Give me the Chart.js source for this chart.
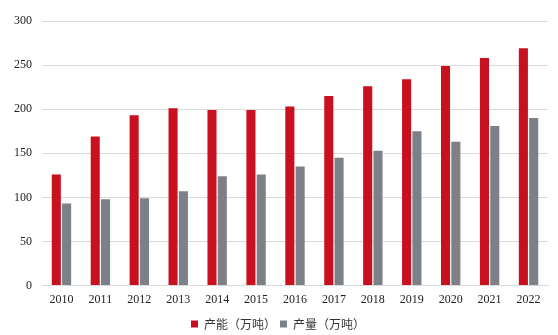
<!DOCTYPE html>
<html>
<head>
<meta charset="utf-8">
<style>
  html, body { margin: 0; padding: 0; background: #fff; }
  #wrap { width: 558px; height: 335px; }
</style>
</head>
<body>
<div id="wrap"><canvas id="myChart"></canvas></div>
<script src="https://cdn.jsdelivr.net/npm/chart.js@4.4.2/dist/chart.umd.min.js"></script>
<script>
  // values
  const years = ['2010', '2011', '2012', '2013', '2014', '2015', '2016', '2017', '2018', '2019', '2020', '2021', '2022'];
  const capacity = [126, 169, 193, 201, 199, 199, 203, 215, 226, 234, 249, 258, 269];
  const output = [93, 98, 99, 107, 124, 126, 135, 145, 153, 175, 163, 181, 190];
  const yTicks = [0, 50, 100, 150, 200, 250, 300];

  const serif = "'Liberation Serif', 'Times New Roman', serif";
  const cjk = "'Noto Sans CJK SC', sans-serif";

  const ctx = document.getElementById('myChart');
  const myChart = new Chart(ctx, {
    type: 'bar',
    data: {
      labels: years,
      datasets: [
        {
          label: '产能（万吨）',
          data: capacity,
          backgroundColor: '#C8101E',
          categoryPercentage: 0.53,
          barPercentage: 0.88
        },
        {
          label: '产量（万吨）',
          data: output,
          backgroundColor: '#7C8087',
          categoryPercentage: 0.53,
          barPercentage: 0.88
        }
      ]
    },
    options: {
      responsive: true,
      maintainAspectRatio: false,
      animation: false,
      layout: { padding: { top: 21, right: 10, left: 8, bottom: -5 } },
      plugins: {
        tooltip: { enabled: false },
        legend: {
          position: 'bottom',
          labels: {
            font: { family: cjk, size: 12 },
            color: '#333',
            boxWidth: 7,
            boxHeight: 7,
            padding: 4
          }
        }
      },
      scales: {
        x: {
          grid: { display: false, drawTicks: false },
          border: { color: '#d9d9d9' },
          ticks: {
            font: { family: serif, size: 12 },
            color: '#222',
            maxRotation: 0,
            padding: 7
          }
        },
        y: {
          min: 0,
          max: 300,
          afterBuildTicks: function(axis) {
            axis.ticks = yTicks.map(function(v) { return { value: v }; });
          },
          afterFit: function(axis) { axis.width = 34; },
          grid: { color: '#d9d9d9', drawTicks: false },
          border: { display: false },
          ticks: {
            font: { family: serif, size: 12 },
            color: '#222',
            padding: 10
          }
        }
      }
    }
  });
</script>
</body>
</html>
